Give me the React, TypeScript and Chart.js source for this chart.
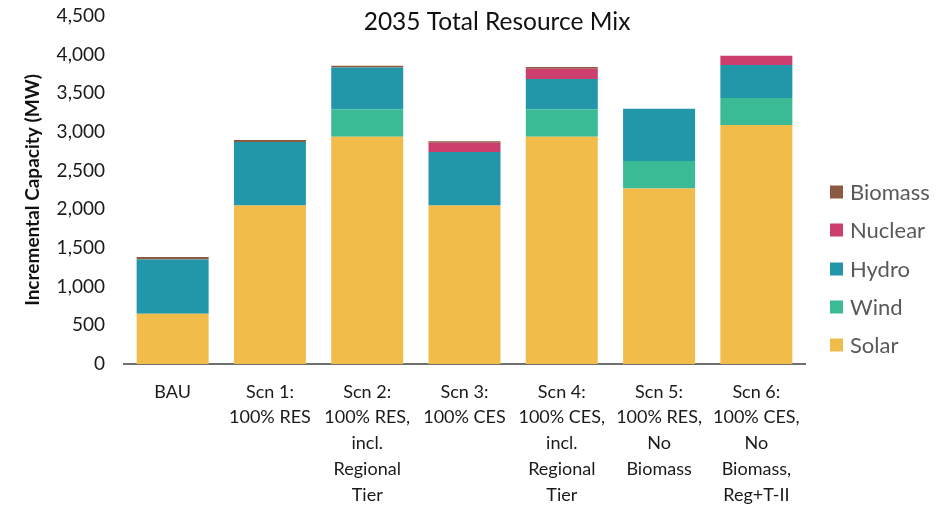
import React, { useEffect, useRef } from "react";
import { Chart, registerables } from "chart.js";

Chart.register(...registerables);

const categories: string[][] = [
  ["BAU"],
  ["Scn 1:", "100% RES"],
  ["Scn 2:", "100% RES,", "incl.", "Regional", "Tier"],
  ["Scn 3:", "100% CES"],
  ["Scn 4:", "100% CES,", "incl.", "Regional", "Tier"],
  ["Scn 5:", "100% RES,", "No", "Biomass"],
  ["Scn 6:", "100% CES,", "No", "Biomass,", "Reg+T-II"],
];

const solar = [650, 2050, 2940, 2050, 2940, 2270, 3090];
const wind = [0, 0, 355, 0, 355, 355, 350];
const hydro = [700, 820, 540, 690, 390, 677, 427];
const nuclear = [0, 0, 0, 120, 134, 0, 120];
const biomass = [35, 25, 22, 22, 22, 0, 0];

const seriesNames = ["Solar", "Wind", "Hydro", "Nuclear", "Biomass"];
const seriesColors = ["#F2BC4A", "#3ABB96", "#2397AA", "#CC3F6D", "#8C5A40"];

const chartTitle = "2035 Total Resource Mix";
const yTitle = "Incremental Capacity (MW)";
const FONT = "Lato, 'Open Sans', sans-serif";

export default function App() {
  const ref = useRef<HTMLCanvasElement | null>(null);

  useEffect(() => {
    document.body.style.margin = "0";
    const canvas = ref.current;
    if (!canvas) return;
    const values = [solar, wind, hydro, nuclear, biomass];

    const overlay = {
      id: "overlay",
      afterDraw(chart: any) {
        const ctx = chart.ctx;
        ctx.save();
        // title
        ctx.fillStyle = "#111111";
        ctx.font = `24.5px ${FONT}`;
        ctx.textAlign = "center";
        ctx.textBaseline = "middle";
        ctx.fillText(chartTitle, 497, 22);
        // legend (reverse order)
        ctx.font = `22px ${FONT}`;
        ctx.textAlign = "left";
        const rows = [192, 230, 269, 307, 345];
        for (let i = 0; i < seriesNames.length; i++) {
          const idx = seriesNames.length - 1 - i;
          const y = rows[i];
          ctx.fillStyle = seriesColors[idx];
          ctx.fillRect(830, y - 6.5, 13, 13);
          ctx.fillStyle = "#595959";
          ctx.fillText(seriesNames[idx], 850, y + 1);
        }
        ctx.restore();
      },
    };

    const chart = new Chart(canvas, {
      type: "bar",
      data: {
        labels: categories,
        datasets: seriesNames.map((name, i) => ({
          label: name,
          data: values[i],
          backgroundColor: seriesColors[i],
          borderWidth: 0,
          categoryPercentage: 1,
          barPercentage: 0.74,
        })),
      },
      options: {
        responsive: false,
        animation: false,
        layout: { padding: { top: 16, right: 132, left: 0, bottom: 0 } },
        plugins: {
          legend: { display: false },
          title: { display: false },
          tooltip: { enabled: false },
        },
        scales: {
          x: {
            stacked: true,
            grid: { display: false, drawTicks: true, tickLength: 15 },
            border: { display: true, color: "#6f7072", width: 2 },
            ticks: {
              color: "#1a1a1a",
              font: { family: FONT, size: 18, lineHeight: 1.43 },
              padding: 0,
              maxRotation: 0,
              autoSkip: false,
            },
            afterFit(scale: any) {
              scale.height = 144;
            },
          },
          y: {
            stacked: true,
            min: 0,
            max: 4500,
            grid: { display: false, drawTicks: true, tickLength: 19 },
            border: { display: false },
            ticks: {
              stepSize: 500,
              color: "#1a1a1a",
              font: { family: FONT, size: 19 },
              padding: 0,
              callback: (v: any) => Number(v).toLocaleString("en-US"),
            },
            title: {
              display: true,
              text: yTitle,
              color: "#111111",
              font: { family: FONT, size: 19, weight: "bold" },
              padding: { top: 21, bottom: 0 },
            },
            afterFit(scale: any) {
              scale.width = 124;
            },
          },
        },
      },
      plugins: [overlay],
    });
    return () => chart.destroy();
  }, []);

  return (
    <div style={{ position: "absolute", left: 0, top: 0, width: 937, height: 508, background: "#fff" }}>
      <canvas ref={ref} width={937} height={508} style={{ width: 937, height: 508 }} />
    </div>
  );
}
